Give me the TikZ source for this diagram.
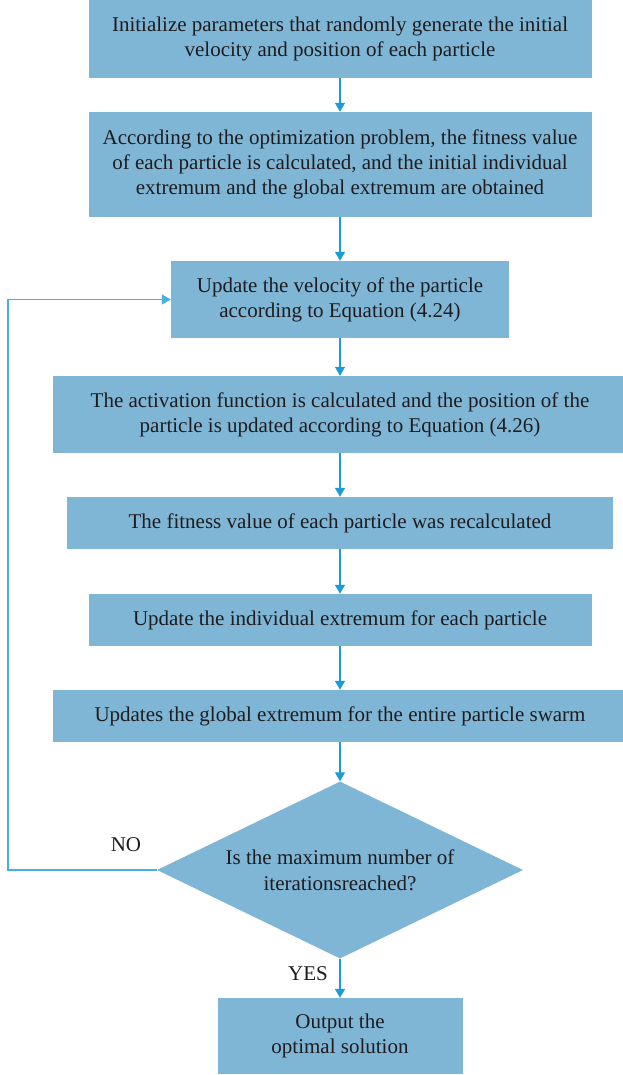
\documentclass[tikz,border=0pt]{standalone}
\usepackage{fontspec}
\setmainfont{Liberation Serif}
\usepackage{tikz}
\usetikzlibrary{arrows.meta,shapes,positioning}

\definecolor{boxblue}{RGB}{127,181,213}
\definecolor{arrowblue}{RGB}{30,155,215}
\definecolor{loopblue}{RGB}{70,175,228}
\definecolor{textgray}{RGB}{30,28,30}

\tikzset{
  stepbox/.style={rectangle,fill=boxblue,inner sep=0pt,align=center,
    text=textgray,font=\fontsize{21}{25}\selectfont},
  decide/.style={diamond,fill=boxblue,inner sep=0pt,aspect=2.07,align=center,
    text=textgray,font=\fontsize{21}{26}\selectfont},
  flow/.style={arrowblue,line width=1.3pt,-{Triangle[width=10pt,length=9pt]}},
  backline/.style={loopblue,line width=1.3pt,-{Triangle[width=10pt,length=9pt]}},
  answer/.style={text=textgray,font=\fontsize{21}{25}\selectfont}
}

\begin{document}
\begin{tikzpicture}[x=1pt,y=-1pt]
  \useasboundingbox (0,0) rectangle (623,1075);

  % the steps
  \node[stepbox,minimum width=503pt,minimum height=78pt] (init) at (340,39)
    {Initialize parameters that randomly generate the initial\\velocity and position of each particle};
  \node[stepbox,minimum width=503pt,minimum height=105pt] (fit) at (340,164.5)
    {According to the optimization problem, the fitness value\\of each particle is calculated, and the initial individual\\extremum and the global extremum are obtained};
  \node[stepbox,minimum width=338pt,minimum height=77pt] (vel) at (340,299.5)
    {Update the velocity of the particle\\according to Equation (4.24)};
  \node[stepbox,minimum width=574pt,minimum height=77pt] (pos) at (340,414.5)
    {The activation function is calculated and the position of the\\particle is updated according to Equation (4.26)};
  \node[stepbox,minimum width=546pt,minimum height=52pt] (refit) at (340,523)
    {The fitness value of each particle was recalculated};
  \node[stepbox,minimum width=503pt,minimum height=52pt] (pbest) at (340,620)
    {Update the individual extremum for each particle};
  \node[stepbox,minimum width=574pt,minimum height=52pt] (gbest) at (340,716)
    {Updates the global extremum for the entire particle swarm};

  % the test
  \node[decide,minimum width=366pt,minimum height=177pt] (check) at (340,870)
    {Is the maximum number of\\iterationsreached?};
  \node[stepbox,minimum width=245pt,minimum height=76pt] (out) at (340,1036)
    {Output the\\optimal solution};

  \draw[flow] (init.south) -- (fit.north);
  \draw[flow] (fit.south) -- (vel.north);
  \draw[flow] (vel.south) -- (pos.north);
  \draw[flow] (pos.south) -- (refit.north);
  \draw[flow] (refit.south) -- (pbest.north);
  \draw[flow] (pbest.south) -- (gbest.north);
  \draw[flow] (gbest.south) -- (check.north);
  \draw[flow] (check.south) -- (out.north);

  % back to the velocity update
  \coordinate (edge) at (8,870);
  \draw[backline] (check.west) -- (edge) |- (vel.west);

  \node[answer] (no) at (126,845) {NO};
  \node[answer] (yes) at (308,974) {YES};
\end{tikzpicture}
\end{document}
